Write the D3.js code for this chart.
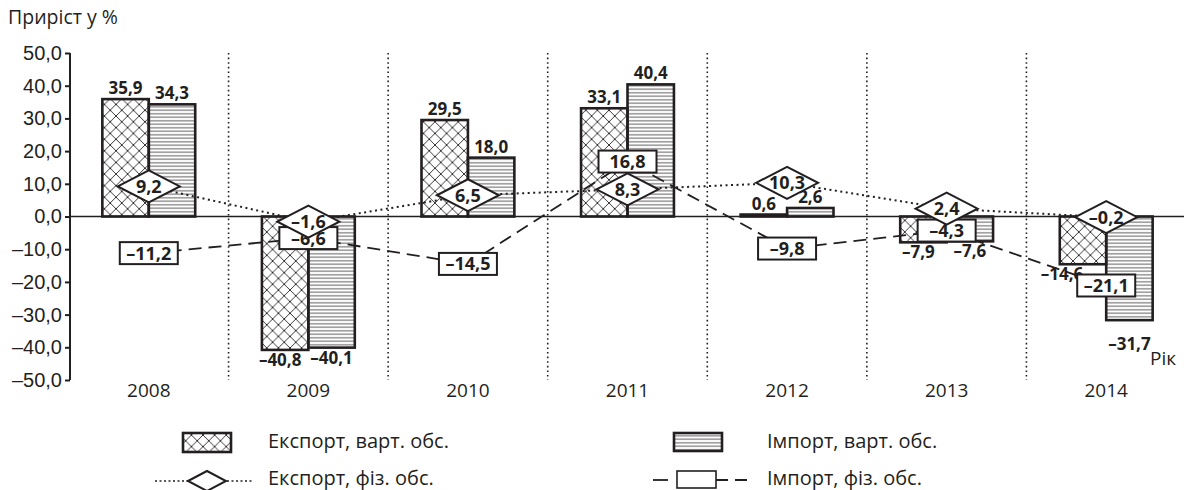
<!DOCTYPE html>
<html>
<head>
<meta charset="utf-8">
<script src="https://cdn.jsdelivr.net/npm/d3@7"></script>
<style>
  body { margin: 0; background: #fff; }
  svg { display: block; font-family: "Open Sans", "Noto Sans", sans-serif; }
  .tick text { font-size: 20px; fill: #231f20; }
  .barlabel { font-size: 17px; font-weight: bold; fill: #231f20; }
  .mlabel { font-size: 18px; font-weight: bold; fill: #231f20; }
</style>
</head>
<body>
<svg></svg>
<script>
var years = ["2008", "2009", "2010", "2011", "2012", "2013", "2014"];
var exportValue = [35.9, -40.8, 29.5, 33.1, 0.6, -7.9, -14.6];
var importValue = [34.3, -40.1, 18.0, 40.4, 2.6, -7.6, -31.7];
var exportVolume = [9.2, -1.6, 6.5, 8.3, 10.3, 2.4, -0.2];
var importVolume = [-11.2, -6.6, -14.5, 16.8, -9.8, -4.3, -21.1];
var yTicks = [-50, -40, -30, -20, -10, 0, 10, 20, 30, 40, 50];

var dark = "#231f20";
var width = 1184, height = 490;

var svg = d3.select("svg").attr("width", width).attr("height", height);

var fmt = function(v) {
  return d3.format(".1f")(v).replace(".", ",").replace("-", "–").replace("−", "–");
};

var x = d3.scaleBand().domain(years).range([69, 1186]);
var bw = x.bandwidth();
var x1 = d3.scaleBand().domain(["exp", "imp"]).range([bw * 0.209, bw * 0.791]);
var y = d3.scaleLinear().domain([-50, 50]).range([380, 53]);

// patterns
var defs = svg.append("defs");
var cross = defs.append("pattern").attr("id", "cross")
    .attr("patternUnits", "userSpaceOnUse").attr("width", 11.6).attr("height", 11.6);
cross.append("path").attr("d", "M0,0L11.6,11.6M11.6,0L0,11.6M-1,10.6L1,12.6M10.6,-1L12.6,1")
    .attr("stroke", dark).attr("stroke-width", 0.9);
var hlines = defs.append("pattern").attr("id", "hlines")
    .attr("patternUnits", "userSpaceOnUse").attr("width", 10).attr("height", 3.5);
hlines.append("line").attr("x1", 0).attr("x2", 10).attr("y1", 1.75).attr("y2", 1.75)
    .attr("stroke", "#4a4a4a").attr("stroke-width", 0.9);

// title
svg.append("text").attr("x", 8).attr("y", 24).attr("font-size", 19.5).attr("fill", dark).text("Приріст у %");
svg.append("text").attr("x", 1150).attr("y", 365).attr("font-size", 19).attr("fill", dark).text("Рік");

// separators
svg.append("g").selectAll("line").data(years.slice(1)).enter().append("line")
    .attr("x1", function(d) { return x(d); }).attr("x2", function(d) { return x(d); })
    .attr("y1", y(50)).attr("y2", y(-50))
    .attr("stroke", dark).attr("stroke-width", 1.6).attr("stroke-dasharray", "1.6,3");

// y axis
var yAxis = svg.append("g").attr("transform", "translate(70,0)")
    .call(d3.axisLeft(y).tickValues(yTicks).tickSize(5).tickPadding(3).tickFormat(fmt));
yAxis.select(".domain").attr("stroke", dark).attr("stroke-width", 2).attr("d", "M0," + y(50) + "V" + y(-50));
yAxis.selectAll(".tick line").attr("stroke", dark).attr("stroke-width", 2);

// year labels
svg.append("g").selectAll("text").data(years).enter().append("text")
    .attr("x", function(d) { return x(d) + bw / 2; }).attr("y", 397)
    .attr("text-anchor", "middle").attr("font-size", 19).attr("fill", dark)
    .text(function(d) { return d; });

// bars
var bars = [];
years.forEach(function(yr, i) {
  bars.push({ year: yr, key: "exp", v: exportValue[i] });
  bars.push({ year: yr, key: "imp", v: importValue[i] });
});
// label nudges where labels would collide
var nudge = { "2014exp": [-21, 0], "2014imp": [0, 14], "2013exp": [-5, 0], "2009exp": [-5, 0] };

svg.append("g").selectAll("rect").data(bars).enter().append("rect")
    .attr("x", function(d) { return x(d.year) + x1(d.key); })
    .attr("width", x1.bandwidth())
    .attr("y", function(d) { return Math.min(y(d.v), y(0)); })
    .attr("height", function(d) { return Math.abs(y(d.v) - y(0)); })
    .attr("fill", function(d) { return d.key === "exp" ? "url(#cross)" : "url(#hlines)"; })
    .attr("stroke", dark).attr("stroke-width", 2.6);

// zero line
svg.append("line").attr("x1", 70).attr("x2", 1184).attr("y1", y(0)).attr("y2", y(0))
    .attr("stroke", dark).attr("stroke-width", 1.6);

svg.append("g").selectAll("text").data(bars).enter().append("text")
    .attr("class", "barlabel").attr("text-anchor", "middle")
    .attr("x", function(d) { var n = nudge[d.year + d.key]; return x(d.year) + x1(d.key) + x1.bandwidth() / 2 + (n ? n[0] : 0); })
    .attr("y", function(d) { var n = nudge[d.year + d.key]; return (d.v >= 0 ? y(d.v) - 5 : y(d.v) + 16) + (n ? n[1] : 0); })
    .text(function(d) { return fmt(d.v); });

// lines
var cx = function(d, i) { return x(years[i]) + bw / 2; };
svg.append("path").datum(exportVolume)
    .attr("d", d3.line().x(cx).y(function(d) { return y(d); }))
    .attr("fill", "none").attr("stroke", dark).attr("stroke-width", 2).attr("stroke-dasharray", "2,3.5");
svg.append("path").datum(importVolume)
    .attr("d", d3.line().x(cx).y(function(d) { return y(d); }))
    .attr("fill", "none").attr("stroke", dark).attr("stroke-width", 1.8).attr("stroke-dasharray", "13,7");

// import volume markers (rectangles)
var rw = 58, rh = 22;
var rg = svg.append("g").selectAll("g").data(importVolume).enter().append("g")
    .attr("transform", function(d, i) { return "translate(" + cx(d, i) + "," + y(d) + ")"; });
rg.append("rect").attr("x", -rw / 2).attr("y", -rh / 2).attr("width", rw).attr("height", rh)
    .attr("fill", "#fff").attr("stroke", dark).attr("stroke-width", 2);
rg.append("text").attr("class", "mlabel").attr("text-anchor", "middle").attr("dy", "0.36em")
    .text(function(d) { return fmt(d); });

// export volume markers (diamonds)
var dw = 31, dh = 16;
var dg = svg.append("g").selectAll("g").data(exportVolume).enter().append("g")
    .attr("transform", function(d, i) { return "translate(" + cx(d, i) + "," + y(d) + ")"; });
dg.append("path").attr("d", "M" + (-dw) + ",0L0," + (-dh) + "L" + dw + ",0L0," + dh + "Z")
    .attr("fill", "#fff").attr("stroke", dark).attr("stroke-width", 2);
dg.append("text").attr("class", "mlabel").attr("text-anchor", "middle").attr("dy", "0.36em")
    .text(function(d) { return fmt(d); });

// legend
var lg = svg.append("g").attr("font-size", 20).attr("fill", dark);
lg.append("rect").attr("x", 183).attr("y", 433).attr("width", 48).attr("height", 19)
    .attr("fill", "url(#cross)").attr("stroke", dark).attr("stroke-width", 2.6);
lg.append("text").attr("x", 268).attr("y", 448).text("Експорт, варт. обс.");
lg.append("rect").attr("x", 674).attr("y", 433).attr("width", 48).attr("height", 18)
    .attr("fill", "url(#hlines)").attr("stroke", dark).attr("stroke-width", 2.6);
lg.append("text").attr("x", 767).attr("y", 448).text("Імпорт, варт. обс.");

lg.append("line").attr("x1", 155).attr("x2", 253).attr("y1", 481).attr("y2", 481)
    .attr("stroke", dark).attr("stroke-width", 1.6).attr("stroke-dasharray", "2,2.5");
lg.append("path").attr("d", "M188,481L207,471L226,481L207,491Z")
    .attr("fill", "#fff").attr("stroke", dark).attr("stroke-width", 2);
lg.append("text").attr("x", 268).attr("y", 485).text("Експорт, фіз. обс.");

lg.append("line").attr("x1", 653).attr("x2", 668).attr("y1", 480).attr("y2", 480)
    .attr("stroke", dark).attr("stroke-width", 1.8);
lg.append("line").attr("x1", 716).attr("x2", 750).attr("y1", 480).attr("y2", 480)
    .attr("stroke", dark).attr("stroke-width", 1.8).attr("stroke-dasharray", "12,7");
lg.append("rect").attr("x", 677).attr("y", 471).attr("width", 39).attr("height", 17)
    .attr("fill", "#fff").attr("stroke", dark).attr("stroke-width", 1.6);
lg.append("text").attr("x", 767).attr("y", 485).text("Імпорт, фіз. обс.");
</script>
</body>
</html>
